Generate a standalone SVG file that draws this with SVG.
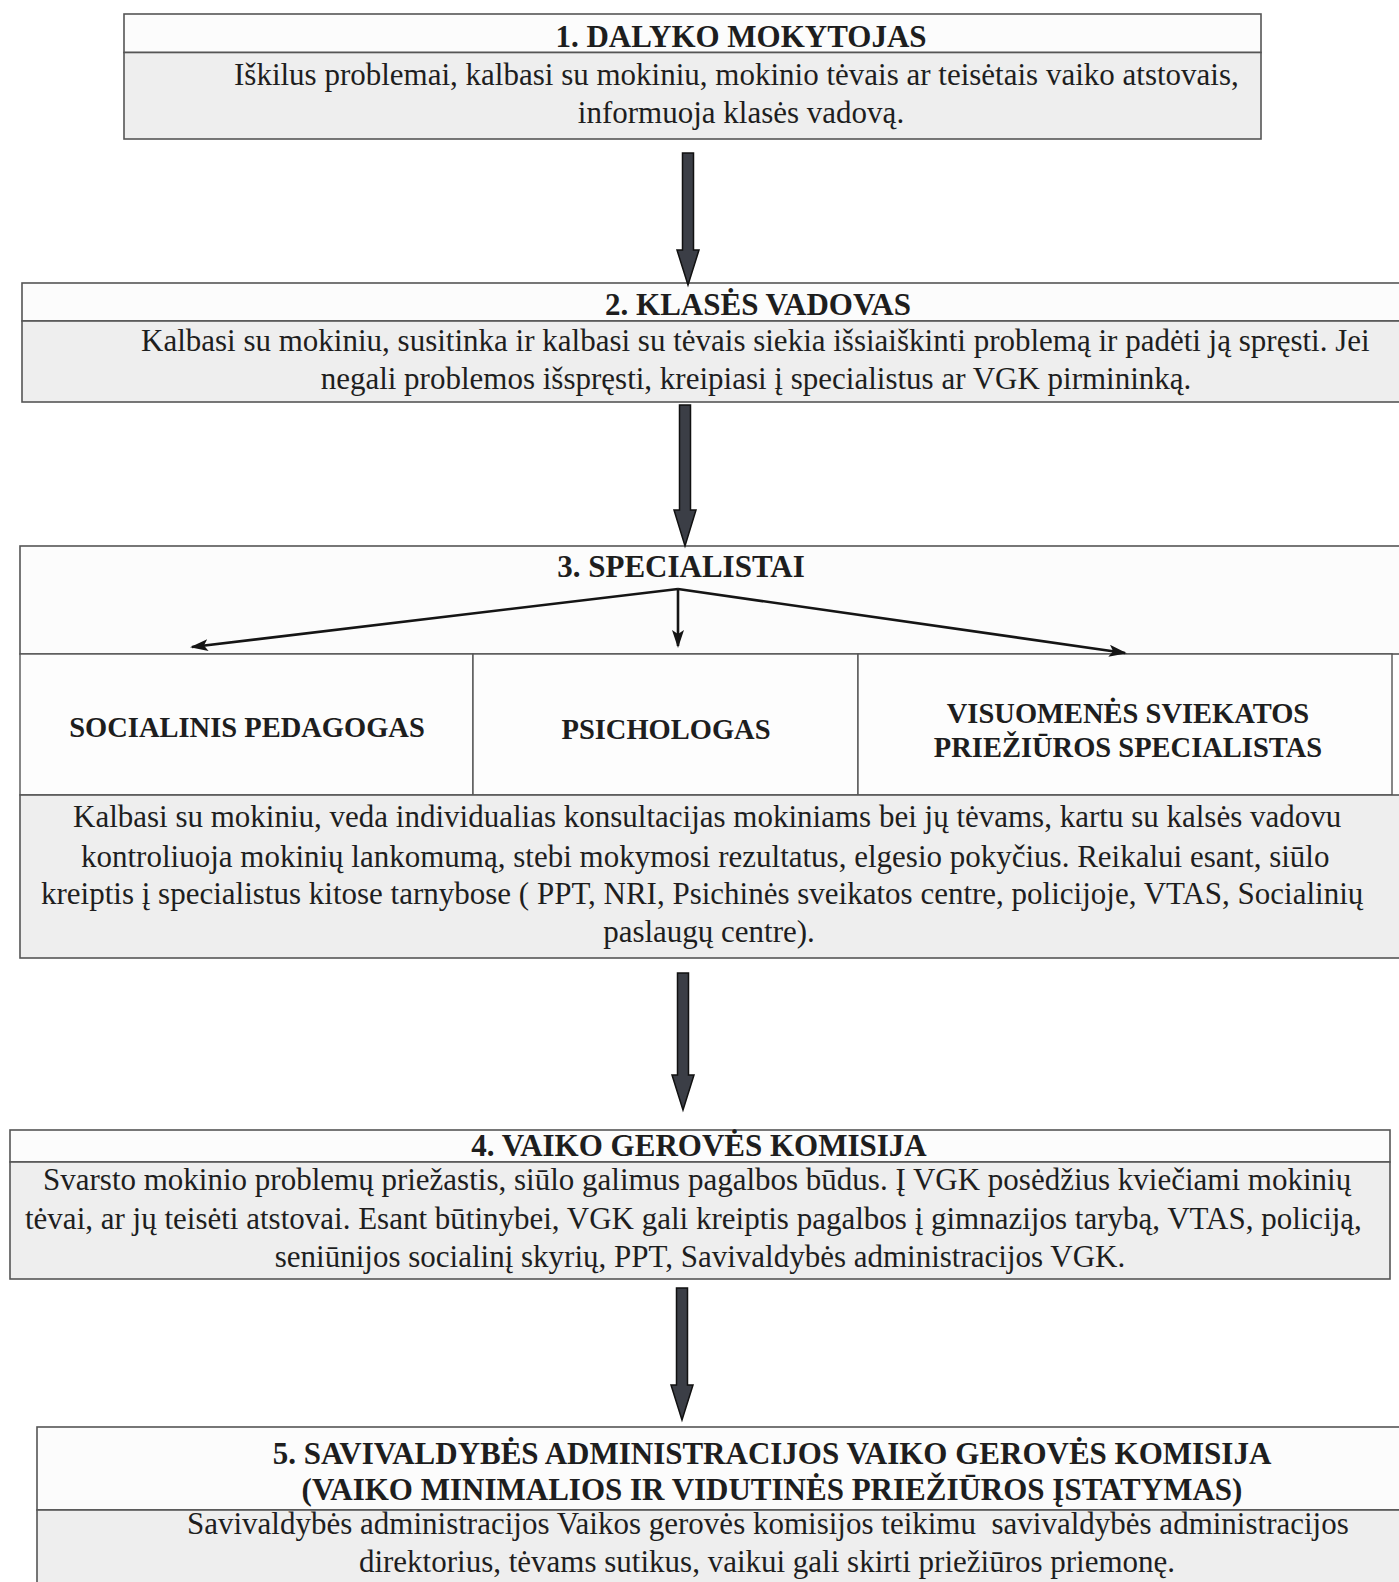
<svg xmlns="http://www.w3.org/2000/svg" width="1399" height="1582" viewBox="0 0 1399 1582">
<style>
.bg{fill:#ffffff}
.hdr{fill:#fcfcfc;stroke:#555;stroke-width:1.6}
.body{fill:#eeeeee;stroke:#555;stroke-width:1.6}
.cell{fill:#fdfdfd;stroke:#555;stroke-width:1.4}
.t{font-family:"Liberation Serif","Times New Roman",serif;fill:#1e1e1e}
.h{font-weight:bold;font-size:31px;text-anchor:middle}
.c{font-weight:bold;font-size:28.5px;text-anchor:middle}
.b{font-size:31px}
.m{text-anchor:middle}
.blk{fill:#3b3e46;stroke:#111;stroke-width:1.5}
.thin{stroke:#151515;stroke-width:2.6;fill:none;marker-end:url(#ah)}
</style>
<defs>
<marker id="ah" viewBox="0 0 18 12" refX="16" refY="6" markerWidth="18" markerHeight="12" markerUnits="userSpaceOnUse" orient="auto">
<path d="M0,0 L18,6 L0,12 L4,6 Z" fill="#151515"/>
</marker>
</defs>
<rect class="bg" x="0" y="0" width="1399" height="1582"/>

<g id="node1">
<rect class="hdr" x="124" y="14" width="1137" height="38.5"/>
<rect class="body" x="124" y="52.5" width="1137" height="86.5"/>
<text class="t h" x="741" y="47">1. DALYKO MOKYTOJAS</text>
<text class="t b" x="234" y="85">Iškilus problemai, kalbasi su mokiniu, mokinio tėvais ar teisėtais vaiko atstovais,</text>
<text class="t b m" x="741" y="123">informuoja klasės vadovą.</text>
</g>

<g id="node2">
<rect class="hdr" x="22" y="283" width="1390" height="38"/>
<rect class="body" x="22" y="321" width="1390" height="81"/>
<text class="t h" x="758" y="315">2. KLASĖS VADOVAS</text>
<text class="t b" x="141" y="351">Kalbasi su mokiniu, susitinka ir kalbasi su tėvais siekia išsiaiškinti problemą ir padėti ją spręsti. Jei</text>
<text class="t b m" x="756" y="389">negali problemos išspręsti, kreipiasi į specialistus ar VGK pirmininką.</text>
</g>

<g id="node3">
<rect class="hdr" x="20" y="546" width="1392" height="108"/>
<text class="t h" x="681" y="577">3. SPECIALISTAI</text>
</g>

<g id="node3a">
<rect class="cell" x="20" y="654" width="453" height="141"/>
<text class="t c" x="247" y="737">SOCIALINIS PEDAGOGAS</text>
</g>
<g id="node3b">
<rect class="cell" x="473" y="654" width="385" height="141"/>
<text class="t c" x="666" y="739">PSICHOLOGAS</text>
</g>
<g id="node3c">
<rect class="cell" x="858" y="654" width="534" height="141"/>
<text class="t c" x="1128" y="723">VISUOMENĖS SVIEKATOS</text>
<text class="t c" x="1128" y="757">PRIEŽIŪROS SPECIALISTAS</text>
</g>

<g id="node3d">
<rect class="body" x="20" y="795" width="1392" height="163"/>
<text class="t b" x="73" y="827">Kalbasi su mokiniu, veda individualias konsultacijas mokiniams bei jų tėvams, kartu su kalsės vadovu</text>
<text class="t b" x="81" y="867">kontroliuoja mokinių lankomumą, stebi mokymosi rezultatus, elgesio pokyčius. Reikalui esant, siūlo</text>
<text class="t b" x="41" y="904">kreiptis į specialistus kitose tarnybose ( PPT, NRI, Psichinės sveikatos centre, policijoje, VTAS, Socialinių</text>
<text class="t b m" x="709" y="942">paslaugų centre).</text>
</g>

<g id="node4">
<rect class="hdr" x="10" y="1130" width="1380" height="32"/>
<rect class="body" x="10" y="1162" width="1380" height="117"/>
<text class="t h" x="699" y="1156">4. VAIKO GEROVĖS KOMISIJA</text>
<text class="t b" x="43" y="1190">Svarsto mokinio problemų priežastis, siūlo galimus pagalbos būdus. Į VGK posėdžius kviečiami mokinių</text>
<text class="t b" x="25" y="1229">tėvai, ar jų teisėti atstovai. Esant būtinybei, VGK gali kreiptis pagalbos į gimnazijos tarybą, VTAS, policiją,</text>
<text class="t b m" x="700" y="1267">seniūnijos socialinį skyrių, PPT, Savivaldybės administracijos VGK.</text>
</g>

<g id="node5">
<rect class="hdr" x="37" y="1427" width="1375" height="83"/>
<rect class="body" x="37" y="1510" width="1375" height="80"/>
<text class="t h" x="772" y="1464">5. SAVIVALDYBĖS ADMINISTRACIJOS VAIKO GEROVĖS KOMISIJA</text>
<text class="t h" x="772" y="1500">(VAIKO MINIMALIOS IR VIDUTINĖS PRIEŽIŪROS ĮSTATYMAS)</text>
<text class="t b" x="187" y="1534">Savivaldybės administracijos Vaikos gerovės komisijos teikimu&#160; savivaldybės administracijos</text>
<text class="t b m" x="767" y="1572">direktorius, tėvams sutikus, vaikui gali skirti priežiūros priemonę.</text>
</g>

<g id="connectors">
<polygon class="blk" points="682.5,153 693.5,153 693.5,250 699,250 688,285 677,250 682.5,250"/>
<polygon class="blk" points="679.5,405 690.5,405 690.5,510 696,510 685,546 674,510 679.5,510"/>
<polygon class="blk" points="677.5,973 688.5,973 688.5,1075 694,1075 683,1110 672,1075 677.5,1075"/>
<polygon class="blk" points="676.5,1288 687.5,1288 687.5,1385 693,1385 682,1420 671,1385 676.5,1385"/>
<line class="thin" x1="678" y1="589" x2="192" y2="647"/>
<line class="thin" x1="678" y1="589" x2="678" y2="646"/>
<line class="thin" x1="678" y1="589" x2="1125" y2="653"/>
</g>
</svg>
